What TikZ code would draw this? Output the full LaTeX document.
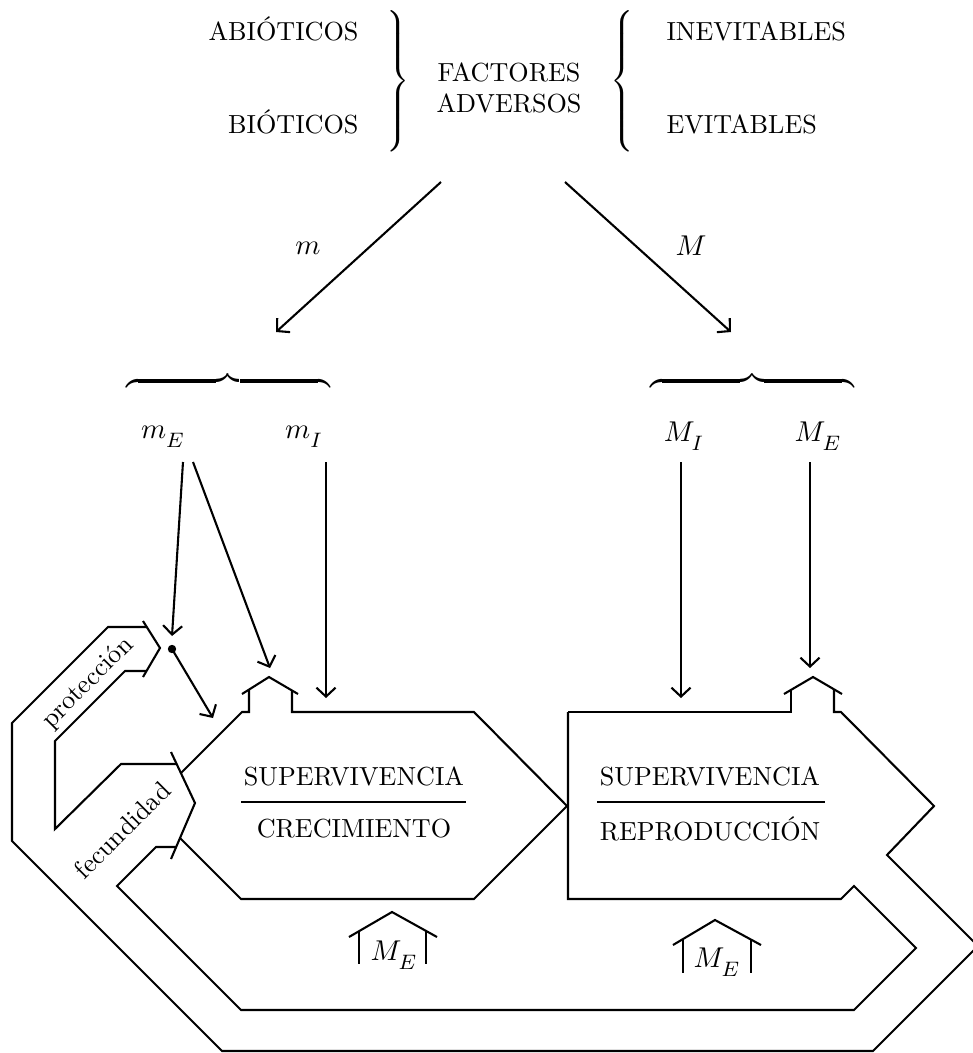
\documentclass[tikz,border=0pt]{standalone}
\usepackage{amsmath}
\usepackage{tikz}
\usetikzlibrary{arrows.meta}
\newcommand{\sbt}[1]{_{\lower1.6pt\hbox{$\scriptstyle #1$}}}

\begin{document}
\begin{tikzpicture}[
    x=0.3825pt, y=-0.3825pt,
    line/.style={line width=0.8pt, line join=miter},
    arrow/.style={line, -{Straight Barb[length=3.4pt,width=7.3pt]}},
    label/.style={inner sep=0pt},
    var/.style={inner sep=0pt, font=\fontsize{11}{13}\selectfont},
    fraction/.style={line width=0.8pt}
]
    \useasboundingbox (0,0) rectangle (973,1053);

    % Factores adversos
    \node[label, anchor=base east] (abio) at (359,40) {ABIÓTICOS};
    \node[label, anchor=base east] (bio) at (359,133) {BIÓTICOS};
    \node[label] (bracel) at (397,81) {\delimitershortfall=-3pt$\left.\vcenter{\hbox{\rule{0pt}{50pt}}}\right\}$};
    \node[label, align=center] (factores) at (509,88) {FACTORES\\ADVERSOS};
    \node[label] (bracer) at (624,81) {\delimitershortfall=-3pt$\left\{\vcenter{\hbox{\rule{0pt}{50pt}}}\right.$};
    \node[label, anchor=base west] (inev) at (666,40) {INEVITABLES};
    \node[label, anchor=base west] (evit) at (666,133) {EVITABLES};

    % m y M
    \coordinate (m-start) at (441,182);
    \coordinate (m-end) at (276,332);
    \coordinate (M-start) at (565,182);
    \coordinate (M-end) at (731,332);
    \draw[arrow] (m-start) -- (m-end);
    \draw[arrow] (M-start) -- (M-end);
    \node[var] (m) at (308,248) {$m$};
    \node[var] (M) at (691,246) {$M$};

    % Llaves
    \node[label] (bracem) at (228,381) {$\overbrace{\hbox to 78pt{}}$};
    \node[label] (braceM) at (752,381) {$\overbrace{\hbox to 78pt{}}$};
    \node[var] (mE) at (163,437) {$m\sbt{E}$};
    \node[var] (mI) at (304,437) {$m\sbt{I}$};
    \node[var] (MI) at (684,436) {$M\sbt{I}$};
    \node[var] (ME) at (818,436) {$M\sbt{E}$};

    \coordinate (mE-a) at (183,462);
    \coordinate (mE-b) at (193,462);
    \coordinate (mI-a) at (326,462);
    \coordinate (MI-a) at (681,462);
    \coordinate (ME-a) at (810,462);
    \coordinate (dot) at (172,649);
    \coordinate (prot-in) at (172,636);
    \coordinate (roof-l) at (270,668);
    \coordinate (top-l) at (326,698);
    \coordinate (top-r) at (681,698);
    \coordinate (roof-r) at (810,668);
    \coordinate (fec-in) at (213,718);

    \draw[arrow] (mE-a) -- (prot-in);
    \draw[arrow] (mE-b) -- (roof-l);
    \draw[arrow] (mI-a) -- (top-l);
    \draw[arrow] (MI-a) -- (top-r);
    \draw[arrow] (ME-a) -- (roof-r);
    \fill (dot) circle (1.6pt);
    \draw[arrow] (dot) -- (fec-in);

    % Caja supervivencia / crecimiento
    \draw[line] (181,773) -- (242,712) -- (249,712) -- (249,690);
    \draw[line] (242,694) -- (269,677) -- (298,694);
    \draw[line] (292,690) -- (292,712) -- (474,712) -- (567,806) -- (474,899) -- (241,899) -- (180,838);
    \node[label] (sup1) at (354,776) {SUPERVIVENCIA};
    \node[label] (crec) at (354,829) {CRECIMIENTO};
    \draw[fraction] (241,802) -- (466,802);

    % Caja supervivencia / reproduccion
    \draw[line] (568,712) -- (568,899) -- (841,899) -- (854,886) -- (916,948) -- (854,1010)
        -- (241,1010) -- (117,886) -- (156,847) -- (176,847);
    \draw[line] (568,712) -- (791,712) -- (791,690);
    \draw[line] (784,694) -- (813,677) -- (842,694);
    \draw[line] (834,690) -- (834,712) -- (841,712) -- (934,806) -- (887,855) -- (978,946)
        -- (873,1051) -- (222,1051) -- (12,841) -- (12,723) -- (108,627) -- (147,627);
    \node[label] (sup2) at (710,776) {SUPERVIVENCIA};
    \node[label] (repr) at (710,829) {REPRODUCCIÓN};
    \draw[fraction] (597,802) -- (825,802);

    % Proteccion y fecundidad
    \draw[line] (146,671) -- (125,671) -- (55,741) -- (55,829) -- (121,764) -- (177,764);
    \draw[line] (143,621) -- (160,648) -- (143,677);
    \draw[line] (171,752) -- (195,803) -- (171,859);
    \node[label, rotate=45] (prot) at (88,683) {protección};
    \node[label, rotate=45] (fec) at (122,830) {fecundidad};

    % Casitas M_E
    \draw[line] (349,937) -- (392,912) -- (437,937);
    \draw[line] (359,931) -- (359,964);
    \draw[line] (426,931) -- (426,964);
    \node[var] (MEl) at (394,955) {$M\sbt{E}$};
    \draw[line] (673,945) -- (715,920) -- (761,945);
    \draw[line] (683,939) -- (683,973);
    \draw[line] (751,939) -- (751,973);
    \node[var] (MEr) at (717,962) {$M\sbt{E}$};
\end{tikzpicture}
\end{document}
